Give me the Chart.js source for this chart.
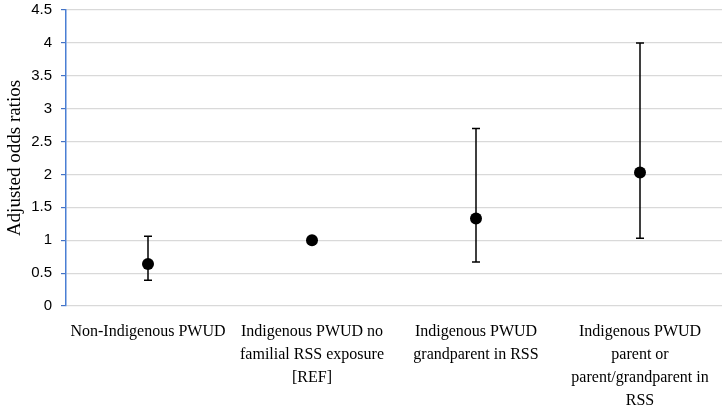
<!DOCTYPE html>
<html>
<head>
<meta charset="utf-8">
<script src="https://cdn.jsdelivr.net/npm/chart.js@4/dist/chart.umd.min.js"></script>
<style>
  html, body { margin: 0; padding: 0; background: #fff; overflow: hidden; }
  #wrap { width: 728px; height: 410px; overflow: hidden; }
  #orChart { display: block; margin-top: -8px; }
</style>
</head>
<body>
<div id="wrap"><canvas id="orChart" width="728" height="418"></canvas></div>
<script>
// Categories (multi-line labels)
const groupLabels = [
    'Non-Indigenous PWUD',
    ['Indigenous PWUD no', 'familial RSS exposure', '[REF]'],
    ['Indigenous PWUD', 'grandparent in RSS'],
    ['Indigenous PWUD', 'parent or', 'parent/grandparent in', 'RSS']
];

// Adjusted odds ratios and 95% CI bounds
const oddsRatios = [0.64, 1.0, 1.33, 2.03];
const lowerCI = [0.39, null, 0.67, 1.03];
const upperCI = [1.06, null, 2.70, 4.00];

const yTicksMax = 4.5;
const yTickStep = 0.5;

/**
 * Draws vertical error bars with caps, using the chart scales
 */
const errorBarPlugin = {
    id: 'errorBars',
    beforeDatasetsDraw(chart) {
        const { ctx, scales: { x, y } } = chart;
        ctx.save();
        ctx.strokeStyle = '#000';
        ctx.lineWidth = 1.5;
        oddsRatios.forEach((v, i) => {
            if (lowerCI[i] == null || upperCI[i] == null) return;
            const px = x.getPixelForValue(i);
            const yLo = y.getPixelForValue(lowerCI[i]);
            const yHi = y.getPixelForValue(upperCI[i]);
            ctx.beginPath();
            ctx.moveTo(px, yLo);
            ctx.lineTo(px, yHi);
            ctx.moveTo(px - 4, yLo);
            ctx.lineTo(px + 4, yLo);
            ctx.moveTo(px - 4, yHi);
            ctx.lineTo(px + 4, yHi);
            ctx.stroke();
        });
        ctx.restore();
    }
};

const ctx = document.getElementById('orChart').getContext('2d');
new Chart(ctx, {
    type: 'line',
    data: {
        labels: groupLabels,
        datasets: [{
            label: 'Adjusted odds ratio',
            data: oddsRatios,
            showLine: false,
            pointRadius: 6,
            pointHoverRadius: 6,
            pointBackgroundColor: '#000',
            pointBorderColor: '#000',
            pointBorderWidth: 0
        }]
    },
    options: {
        responsive: false,
        animation: false,
        layout: {
            padding: { top: 1, right: 4, left: 0, bottom: 0 }
        },
        plugins: {
            legend: { display: false },
            tooltip: { enabled: false }
        },
        scales: {
            x: {
                type: 'category',
                offset: true,
                grid: { display: false, drawTicks: false },
                border: { display: false },
                ticks: {
                    color: '#000',
                    padding: 14,
                    maxRotation: 0,
                    autoSkip: false,
                    font: { family: "'Liberation Serif', 'DejaVu Serif', serif", size: 16, lineHeight: 1.45 }
                },
                afterFit: (scale) => { scale.height = 104; }
            },
            y: {
                min: 0,
                max: yTicksMax,
                grid: {
                    color: '#d9d9d9',
                    lineWidth: 1.2,
                    tickColor: '#4472C4',
                    tickLength: 5
                },
                border: { color: '#4a7fd4', width: 1.5 },
                ticks: {
                    stepSize: yTickStep,
                    color: '#000',
                    padding: 9,
                    callback: (value) => String(value),
                    font: { family: "'Liberation Sans', 'Open Sans', sans-serif", size: 15 }
                },
                title: {
                    display: true,
                    text: 'Adjusted odds ratios',
                    color: '#000',
                    padding: { top: 4, bottom: 0 },
                    font: { family: "'Liberation Serif', 'DejaVu Serif', serif", size: 19 }
                },
                afterFit: (scale) => { scale.width = 66; }
            }
        }
    },
    plugins: [errorBarPlugin]
});
</script>
</body>
</html>
